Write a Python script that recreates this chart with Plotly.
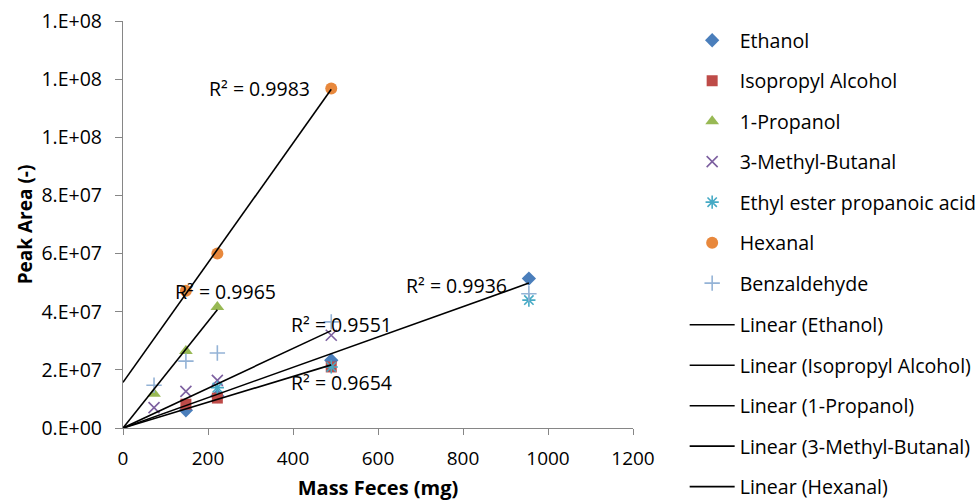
import numpy as np
import plotly.graph_objects as go

# ---- data ----
ethanol_x = [148, 222, 490, 955]
ethanol_y = [6.1e6, 1.1e7, 2.33e7, 5.14e7]

isopropyl_x = [148, 222, 490]
isopropyl_y = [8.2e6, 1.03e7, 2.1e7]

propanol_x = [73, 148, 222]
propanol_y = [1.18e7, 2.65e7, 4.16e7]

methylbutanal_x = [73, 148, 222, 490]
methylbutanal_y = [7.0e6, 1.26e7, 1.64e7, 3.19e7]

ethylester_x = [222, 490, 955]
ethylester_y = [1.39e7, 2.1e7, 4.4e7]

hexanal_x = [148, 222, 490]
hexanal_y = [4.72e7, 6.0e7, 1.168e8]

benzaldehyde_x = [73, 148, 222, 490, 955]
benzaldehyde_y = [1.47e7, 2.3e7, 2.58e7, 3.65e7, 4.62e7]

r2_labels = ["R² = 0.9936", "R² = 0.9654", "R² = 0.9965", "R² = 0.9551", "R² = 0.9983"]

y_tickvals = [0, 2e7, 4e7, 6e7, 8e7, 1e8, 1.2e8, 1.4e8]
y_ticktext = ["0.E+00", "2.E+07", "4.E+07", "6.E+07", "8.E+07", "1.E+08", "1.E+08", "1.E+08"]
x_tickvals = [0, 200, 400, 600, 800, 1000, 1200]

FONT = "Open Sans"

series = [
    ("Ethanol", ethanol_x, ethanol_y, "diamond", "#4A7EBB", 11),
    ("Isopropyl Alcohol", isopropyl_x, isopropyl_y, "square", "#BE4B48", 11),
    ("1-Propanol", propanol_x, propanol_y, "triangle-up", "#98B954", 12),
    ("3-Methyl-Butanal", methylbutanal_x, methylbutanal_y, "x-thin-open", "#7D60A0", 11),
    ("Ethyl ester propanoic acid", ethylester_x, ethylester_y, "asterisk-open", "#46AAC5", 11),
    ("Hexanal", hexanal_x, hexanal_y, "circle", "#E8883C", 12),
    ("Benzaldehyde", benzaldehyde_x, benzaldehyde_y, "cross-thin-open", "#94B3D6", 11),
]

fig = go.Figure()
for i, (name, xs, ys, sym, col, sz) in enumerate(series):
    fig.add_trace(go.Scatter(
        x=xs, y=ys, mode="markers", name=name,
        legendgroup=f"g{i}", legend="legend",
        marker=dict(symbol=sym, color=col, size=sz,
                    line=dict(color=col, width=1.6 if "open" in sym else 0)),
    ))

# trendlines (Excel style): intercept fixed to 0 except Hexanal
def fit_origin(xs, ys):
    xs = np.array(xs, float); ys = np.array(ys, float)
    return float((xs * ys).sum() / (xs * xs).sum()), 0.0

def fit_free(xs, ys):
    m, b = np.polyfit(np.array(xs, float), np.array(ys, float), 1)
    return float(m), float(b)

trends = [
    ("Linear (Ethanol)", ethanol_x, ethanol_y, fit_origin),
    ("Linear (Isopropyl Alcohol)", isopropyl_x, isopropyl_y, fit_origin),
    ("Linear (1-Propanol)", propanol_x, propanol_y, fit_origin),
    ("Linear (3-Methyl-Butanal)", methylbutanal_x, methylbutanal_y, fit_origin),
    ("Linear (Hexanal)", hexanal_x, hexanal_y, fit_free),
]
for j, (name, xs, ys, fn) in enumerate(trends):
    m, b = fn(xs, ys)
    xl = np.array([0.0, max(xs)])
    fig.add_trace(go.Scatter(
        x=xl, y=m * xl + b, mode="lines", name=name,
        legendgroup=f"t{j}", legend="legend2",
        line=dict(color="black", width=1.6),
    ))

# R² labels
r2_pos = [(785, 4.91e7), (514, 1.58e7), (241, 4.68e7), (513, 3.57e7), (320, 1.168e8)]
for (ax, ay), txt in zip(r2_pos, r2_labels):
    fig.add_annotation(x=ax, y=ay, text=txt, showarrow=False,
                       xanchor="center", yanchor="middle",
                       font=dict(family=FONT, size=19.5, color="black"))

axis_common = dict(showgrid=False, zeroline=False, showline=True,
                   linecolor="#868686", linewidth=1.3, ticks="outside",
                   tickcolor="#868686", tickwidth=1.3)

legend_common = dict(xref="container", x=0.7015, xanchor="left",
                     yref="paper", yanchor="top",
                     traceorder="grouped", tracegroupgap=12,
                     font=dict(family=FONT, size=19.6, color="black"),
                     itemwidth=45, bgcolor="rgba(0,0,0,0)")

fig.update_layout(
    width=976, height=501,
    margin=dict(l=123, r=343, t=21, b=73, autoexpand=False),
    paper_bgcolor="white", plot_bgcolor="white",
    font=dict(family=FONT, color="black"),
    xaxis=dict(range=[0, 1200], tickvals=x_tickvals, ticklen=6, ticklabelstandoff=7,
               tickfont=dict(family=FONT, size=19, color="black"),
               title=dict(text="<b>Mass Feces (mg)</b>", font=dict(family=FONT, size=20), standoff=13),
               **axis_common),
    yaxis=dict(range=[0, 1.4e8], tickvals=y_tickvals, ticktext=y_ticktext,
               ticklen=7, ticklabelstandoff=9,
               tickfont=dict(family=FONT, size=19.5, color="black"),
               title=dict(text="<b>Peak Area (-)</b>", font=dict(family=FONT, size=19), standoff=3),
               **axis_common),
    legend=dict(y=1.0, **legend_common),
    legend2=dict(y=0.301, **legend_common),
    showlegend=True,
)

fig.write_html("out.html")
